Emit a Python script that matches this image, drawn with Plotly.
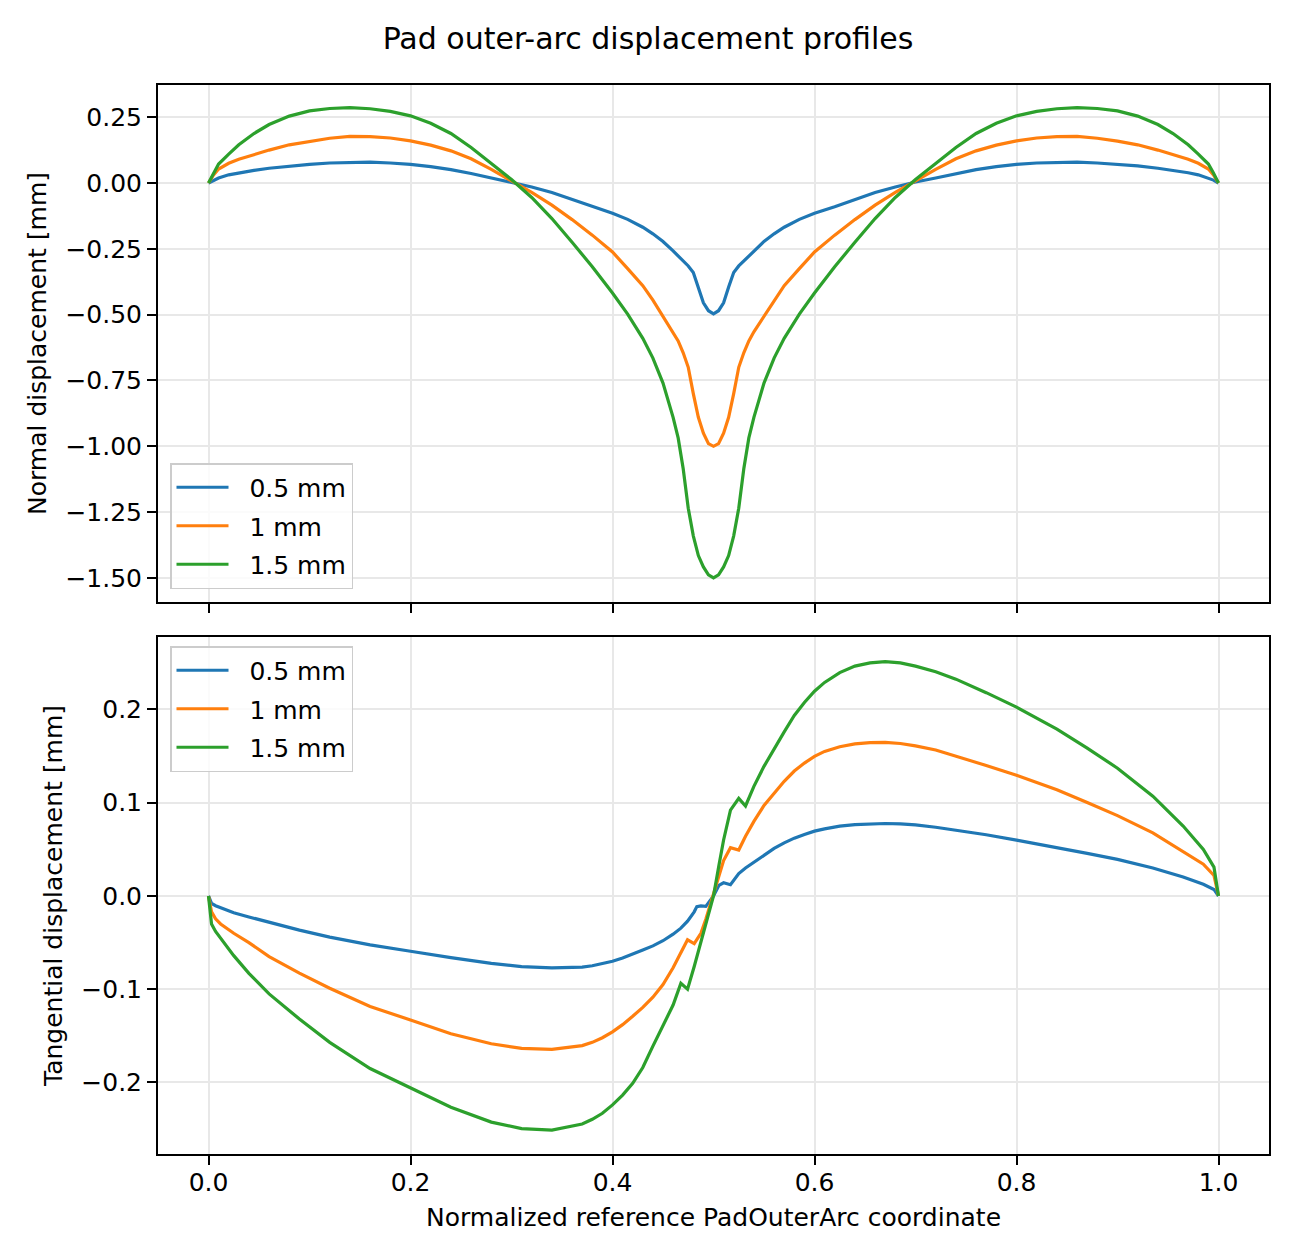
import plotly.graph_objects as go

# ---------------- data ----------------
series_names = ["0.5 mm", "1 mm", "1.5 mm"]
series_colors = ["#1f77b4", "#ff7f0e", "#2ca02c"]

# Top panel: normal displacement [mm]
normal_x = [0.0, 0.005, 0.01, 0.02, 0.03, 0.045, 0.06, 0.08, 0.10, 0.12, 0.14, 0.16, 0.18, 0.20,
            0.22, 0.24, 0.26, 0.28, 0.30, 0.32, 0.34, 0.36, 0.38, 0.40, 0.415, 0.43, 0.44, 0.45,
            0.46, 0.465, 0.47, 0.475, 0.48, 0.485, 0.49, 0.495, 0.5,
            0.505, 0.51, 0.515, 0.52, 0.525, 0.53, 0.535, 0.54, 0.55, 0.56, 0.57, 0.585, 0.60,
            0.62, 0.64, 0.66, 0.68, 0.70, 0.72, 0.74, 0.76, 0.78, 0.80, 0.82, 0.84, 0.86, 0.88,
            0.90, 0.92, 0.94, 0.955, 0.97, 0.98, 0.99, 0.995, 1.0]

normal_05 = [0.0, 0.011, 0.019, 0.031, 0.039, 0.048, 0.056, 0.065, 0.071, 0.076, 0.079, 0.079, 0.076, 0.071,
             0.062, 0.051, 0.036, 0.019, 0.004, -0.015, -0.036, -0.062, -0.090, -0.115, -0.138, -0.168, -0.193, -0.222,
             -0.258, -0.278, -0.296, -0.315, -0.340, -0.395, -0.455, -0.485, -0.497,
             -0.485, -0.455, -0.395, -0.340, -0.315, -0.296, -0.278, -0.258, -0.222, -0.193, -0.168, -0.138, -0.115,
             -0.090, -0.062, -0.036, -0.015, 0.004, 0.019, 0.036, 0.051, 0.062, 0.071, 0.076, 0.079, 0.079, 0.076,
             0.071, 0.065, 0.056, 0.048, 0.039, 0.031, 0.019, 0.011, 0.0]

normal_10 = [0.0, 0.031, 0.053, 0.075, 0.090, 0.108, 0.125, 0.145, 0.159, 0.170, 0.177, 0.176, 0.171, 0.160,
             0.144, 0.122, 0.092, 0.052, 0.008, -0.036, -0.084, -0.139, -0.198, -0.262, -0.325, -0.390, -0.445, -0.505,
             -0.565, -0.600, -0.645, -0.700, -0.800, -0.890, -0.950, -0.990, -1.000,
             -0.990, -0.950, -0.890, -0.800, -0.700, -0.645, -0.600, -0.565, -0.505, -0.445, -0.390, -0.325, -0.262,
             -0.198, -0.139, -0.084, -0.036, 0.008, 0.052, 0.092, 0.122, 0.144, 0.160, 0.171, 0.176, 0.177, 0.170,
             0.159, 0.145, 0.125, 0.108, 0.090, 0.075, 0.053, 0.031, 0.0]

normal_15 = [0.0, 0.038, 0.072, 0.110, 0.145, 0.188, 0.222, 0.254, 0.274, 0.283, 0.286, 0.282, 0.272, 0.255,
             0.227, 0.188, 0.135, 0.074, 0.013, -0.055, -0.135, -0.225, -0.318, -0.418, -0.498, -0.590, -0.665, -0.760,
             -0.890, -0.968, -1.085, -1.235, -1.340, -1.415, -1.458, -1.488, -1.500,
             -1.488, -1.458, -1.415, -1.340, -1.235, -1.085, -0.968, -0.890, -0.760, -0.665, -0.590, -0.498, -0.418,
             -0.318, -0.225, -0.135, -0.055, 0.013, 0.074, 0.135, 0.188, 0.227, 0.255, 0.272, 0.282, 0.286, 0.283,
             0.274, 0.254, 0.222, 0.188, 0.145, 0.110, 0.072, 0.038, 0.0]

# Bottom panel: tangential displacement [mm]
tang_x = [0.0, 0.003, 0.007, 0.012, 0.025, 0.04, 0.06, 0.09, 0.12, 0.16, 0.20, 0.24, 0.28, 0.31, 0.34,
          0.37, 0.38, 0.39, 0.40, 0.41, 0.42, 0.43, 0.44, 0.45, 0.46, 0.4677, 0.4743, 0.4809, 0.4835,
          0.4875, 0.4924, 0.4965, 0.5, 0.5053, 0.510, 0.5168, 0.525, 0.5317, 0.54, 0.55, 0.56, 0.57,
          0.58, 0.59, 0.60, 0.61, 0.625, 0.64, 0.655, 0.67, 0.685, 0.70, 0.72, 0.74, 0.77, 0.80, 0.84,
          0.87, 0.90, 0.935, 0.965, 0.985, 0.9955, 1.0]

tang_05 = [0.0, -0.008, -0.0105, -0.0127, -0.018, -0.0225, -0.0285, -0.0366, -0.0441, -0.0524,
           -0.0593, -0.0662, -0.0722, -0.0758, -0.0771, -0.0763, -0.0748, -0.0728, -0.070, -0.0665,
           -0.0625, -0.058, -0.0535, -0.048, -0.041, -0.0345, -0.027, -0.017, -0.0114, -0.0107,
           -0.0112, -0.0055, 0.0, 0.0113, 0.0141, 0.012, 0.024, 0.030, 0.036, 0.044,
           0.051, 0.057, 0.062, 0.066, 0.0695, 0.072, 0.0748, 0.0765, 0.0775, 0.0777,
           0.0772, 0.0762, 0.0737, 0.0705, 0.0656, 0.0599, 0.0522, 0.0456, 0.0392, 0.030,
           0.0203, 0.0125, 0.0070, 0.0]

tang_10 = [0.0, -0.017, -0.0245, -0.030, -0.040, -0.050, -0.065, -0.0828, -0.099, -0.1185,
           -0.133, -0.1478, -0.1585, -0.1635, -0.1646, -0.1605, -0.157, -0.152, -0.1457, -0.138,
           -0.129, -0.1195, -0.1085, -0.095, -0.077, -0.061, -0.047, -0.051, -0.047, -0.040,
           -0.025, -0.010, 0.0, 0.020, 0.038, 0.0518, 0.0493, 0.064, 0.080, 0.097,
           0.110, 0.123, 0.134, 0.1425, 0.1497, 0.155, 0.160, 0.163, 0.1645, 0.1647,
           0.1635, 0.161, 0.1565, 0.150, 0.140, 0.1294, 0.114, 0.1002, 0.0862, 0.0677,
           0.048, 0.034, 0.022, 0.0]

tang_15 = [0.0, -0.030, -0.038, -0.045, -0.064, -0.083, -0.105, -0.132, -0.157, -0.185,
           -0.206, -0.2265, -0.2425, -0.2495, -0.251, -0.2445, -0.2395, -0.233, -0.224, -0.2135,
           -0.201, -0.184, -0.161, -0.138, -0.117, -0.0936, -0.100, -0.0757, -0.065, -0.049,
           -0.028, -0.012, 0.0, 0.0324, 0.060, 0.092, 0.1046, 0.0965, 0.1175, 0.139,
           0.158, 0.176, 0.1935, 0.2075, 0.2196, 0.229, 0.2395, 0.2465, 0.2500, 0.2513,
           0.2500, 0.2465, 0.2405, 0.2325, 0.218, 0.2025, 0.179, 0.1586, 0.137, 0.107,
           0.075, 0.050, 0.031, 0.0]

x_ticks = [0.0, 0.2, 0.4, 0.6, 0.8, 1.0]
title_text = "Pad outer-arc displacement profiles"
xlabel_text = "Normalized reference PadOuterArc coordinate"
ylabel_top = "Normal displacement [mm]"
ylabel_bottom = "Tangential displacement [mm]"

# ---------------- figure ----------------
FONT = "DejaVu Sans"
NBSP = "\u00a0"
fig = go.Figure()

normal_series = [normal_05, normal_10, normal_15]
tang_series = [tang_05, tang_10, tang_15]

for i, name in enumerate(series_names):
    fig.add_trace(go.Scatter(x=normal_x, y=normal_series[i], mode="lines", name=NBSP * 2 + name,
                             line=dict(color=series_colors[i], width=3.2),
                             xaxis="x", yaxis="y", legend="legend",
                             legendgroup="top%d" % i))
for i, name in enumerate(series_names):
    fig.add_trace(go.Scatter(x=tang_x, y=tang_series[i], mode="lines", name=NBSP * 2 + name,
                             line=dict(color=series_colors[i], width=3.2),
                             xaxis="x2", yaxis="y2", legend="legend2",
                             legendgroup="bot%d" % i))

axis_common = dict(showline=True, mirror=True, linecolor="black", linewidth=2,
                   ticks="outside", ticklen=9, tickwidth=2, tickcolor="black",
                   showgrid=True, gridcolor="#e8e8e8", gridwidth=1.5, zeroline=False,
                   tickfont=dict(family=FONT, size=25, color="black"))

top_dom = [(1154 - 602) / 1069, 1.0]
bot_dom = [0.0, (1154 - 637) / 1069]

legend_common = dict(font=dict(family=FONT, size=25, color="black"),
                     bgcolor="rgba(255,255,255,0.8)", bordercolor="#cccccc", borderwidth=1.5,
                     xanchor="left", tracegroupgap=3, itemwidth=52, traceorder="grouped")

fig.update_layout(
    width=1296, height=1260,
    margin=dict(l=158, r=27, t=85, b=106),
    paper_bgcolor="white", plot_bgcolor="white",
    showlegend=True,
    title=dict(text=title_text, x=0.5, xref="container", xanchor="center",
               y=1 - 38 / 1260, yref="container", yanchor="middle",
               font=dict(family=FONT, size=30, color="black")),
    xaxis=dict(domain=[0, 1], anchor="y", range=[-0.05, 1.05], tickvals=x_ticks,
               showticklabels=False, **axis_common),
    yaxis=dict(domain=top_dom, anchor="x", range=[-1.5913, 0.3722], dtick=0.25, tick0=0,
               tickformat=".2f",
               title=dict(text=ylabel_top, font=dict(family=FONT, size=25, color="black"), standoff=12),
               **axis_common),
    xaxis2=dict(domain=[0, 1], anchor="y2", range=[-0.05, 1.05], tickvals=x_ticks,
                tickformat=".1f", matches="x", ticklabelstandoff=-4,
                title=dict(text=xlabel_text, font=dict(family=FONT, size=25, color="black"), standoff=12),
                **axis_common),
    yaxis2=dict(domain=bot_dom, anchor="x2", range=[-0.2767, 0.2777], dtick=0.1, tick0=0,
                tickformat=".1f",
                title=dict(text=ylabel_bottom, font=dict(family=FONT, size=25, color="black"), standoff=12),
                **axis_common),
    legend=dict(x=(170 - 158) / 1111, y=(1154 - 589) / 1069, yanchor="bottom", **legend_common),
    legend2=dict(x=(170 - 158) / 1111, y=(1154 - 646) / 1069, yanchor="top", **legend_common),
)

fig.write_html("out.html")
